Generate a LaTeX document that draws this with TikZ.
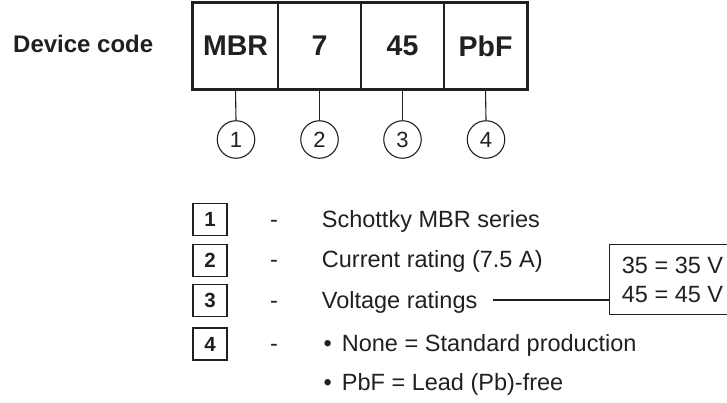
\documentclass[tikz,border=0pt]{standalone}
\usepackage{fontspec}
\setmainfont{Liberation Sans}
\definecolor{ink}{RGB}{35,31,32}
\begin{document}
\begin{tikzpicture}[x=1pt,y=-1pt,
  every node/.style={text=ink},
  cell/.style={draw=ink, line width=1.2pt, minimum height=86pt, inner sep=0pt,
    font=\fontsize{28.5}{31}\selectfont\bfseries},
  circ/.style={draw=ink, circle, line width=1.1pt, minimum size=37.5pt, inner sep=0pt,
    font=\fontsize{22}{24}\selectfont},
  legbox/.style={draw=ink, line width=1.8pt, minimum width=34pt, minimum height=32pt, inner sep=0pt,
    font=\fontsize{20.5}{22}\selectfont\bfseries},
  body/.style={anchor=base west, inner sep=0pt, font=\fontsize{23.5}{26}\selectfont},
  dashmark/.style={anchor=base, inner sep=0pt, font=\fontsize{23.5}{26}\selectfont},
  conn/.style={draw=ink, line width=1.1pt}
]
\useasboundingbox (0,0) rectangle (727,403);

% title
\node[anchor=base west, inner sep=0pt, font=\fontsize{24}{26}\selectfont\bfseries] (title) at (13,53) {Device code};

% code cells
\node[cell, minimum width=85pt] (c1) at (235.5,46) {MBR};
\node[cell, minimum width=83pt] (c2) at (319.5,46) {7};
\node[cell, minimum width=83pt] (c3) at (402.5,46) {45};
\node[cell, minimum width=83pt] (c4) at (485.5,46) {PbF};
\draw[draw=ink, line width=2pt] (c1.north west) rectangle (c4.south east);

% circled numbers
\node[circ] (n1) at (236,139.5) {1};
\node[circ] (n2) at (319.5,139.5) {2};
\node[circ] (n3) at (402.5,139.5) {3};
\node[circ] (n4) at (486,139.5) {4};
\draw[conn] (c1.south) -- (n1.north);
\draw[conn] (c2.south) -- (n2.north);
\draw[conn] (c3.south) -- (n3.north);
\draw[conn] (c4.south) -- (n4.north);

% legend
\node[legbox] (b1) at (210,219.5) {1};
\node[legbox] (b2) at (210,260.5) {2};
\node[legbox] (b3) at (210,300.5) {3};
\node[legbox] (b4) at (210,344) {4};

\node[dashmark] (d1) at (274,227.7) {-};
\node[dashmark] (d2) at (274,267.3) {-};
\node[dashmark] (d3) at (274,308.3) {-};
\node[dashmark] (d4) at (274,351.7) {-};

\node[body] (t1) at (321.7,227.7) {Schottky MBR series};
\node[body] (t2) at (321.7,267.3) {Current rating (7.5 A)};
\node[body] (t3) at (321.7,308.3) {Voltage ratings};
\node[body] (t4) at (323.5,351.7) {\makebox[18.2pt][l]{\textbullet}None = Standard production};
\node[body] (t5) at (323.5,390) {\makebox[18.2pt][l]{\textbullet}PbF = Lead (Pb)-free};

% voltage box
\node[draw=ink, line width=1.1pt, anchor=north west, minimum width=131pt, minimum height=70pt, inner sep=0pt] (v) at (609,244) {};
\node[body] (v1) at (621.7,273.3) {35 = 35 V};
\node[body] (v2) at (621.7,302.3) {45 = 45 V};
\coordinate (lstart) at (492.7,300);
\draw[conn] (lstart) -- (lstart -| v.west);
\end{tikzpicture}
\end{document}
